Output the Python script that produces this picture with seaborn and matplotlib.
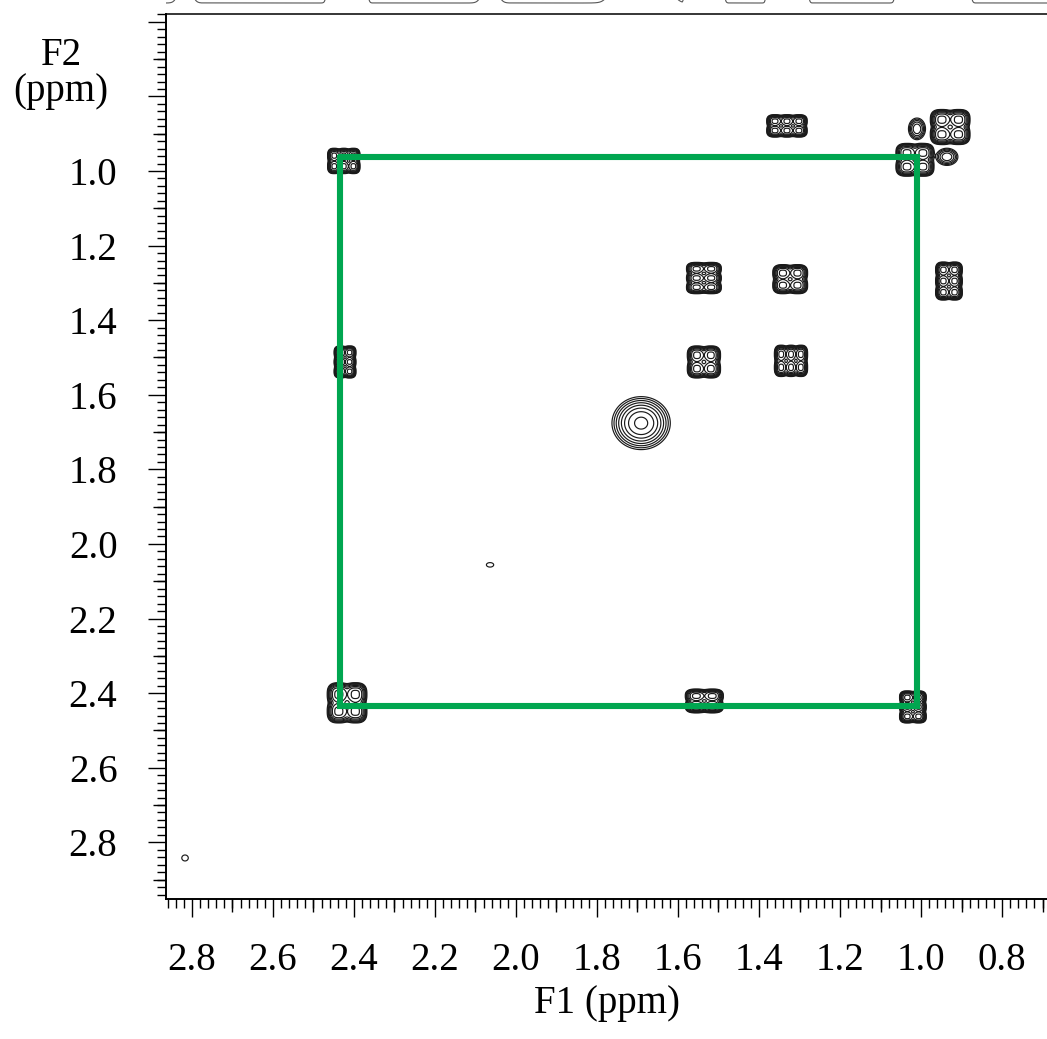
import numpy as np
import matplotlib
matplotlib.use("Agg")
import matplotlib.pyplot as plt
from matplotlib.ticker import FixedLocator, FuncFormatter
import seaborn as sns

# COSY cross/diagonal peaks (ppm)
peak_f1 = [2.425, 2.422, 2.417, 1.331, 0.928, 1.015, 1.010, 0.936, 1.536, 1.323,
           0.931, 1.536, 1.321, 1.691, 1.535, 1.020, 2.064, 2.817]
peak_f2 = [0.973, 1.512, 2.426, 0.879, 0.882, 0.970, 0.887, 0.962, 1.287, 1.290,
           1.295, 1.512, 1.509, 1.676, 2.421, 2.437, 2.056, 2.842]
# half size of the outer contour (ppm)
half_f1 = [0.040, 0.027, 0.049, 0.050, 0.049, 0.047, 0.021, 0.027, 0.043, 0.043,
           0.033, 0.041, 0.041, 0.072, 0.047, 0.033, 0.009, 0.008]
half_f2 = [0.034, 0.043, 0.054, 0.030, 0.047, 0.044, 0.029, 0.023, 0.042, 0.039,
           0.051, 0.043, 0.042, 0.071, 0.032, 0.043, 0.006, 0.008]
# multiplet lines along each axis
lines_f1 = [3, 2, 2, 3, 2, 2, 1, 1, 2, 2, 2, 2, 3, 1, 2, 2, 1, 1]
lines_f2 = [2, 3, 2, 2, 2, 2, 1, 1, 3, 2, 3, 2, 2, 1, 2, 3, 1, 1]
intensity = [1, 1, 1, 1, 1, 1, 0.35, 0.35, 1, 1, 1, 1, 1, 1, 1, 1, 0.05, 0.05]

# green connectivity box
box_f1 = [2.435, 1.010, 1.010, 2.435, 2.435]
box_f2 = [0.962, 0.962, 2.434, 2.434, 0.962]

major_ticks = [0.6, 0.8, 1.0, 1.2, 1.4, 1.6, 1.8, 2.0, 2.2, 2.4, 2.6, 2.8]

# figure geometry
W, H = 1047, 1039
x_left, x_right = 2.864, 0.689
y_top, y_bottom = 0.579, 2.952
lowest = 0.04
levels = np.geomspace(lowest, 0.85, 8)
fs = 28

sns.set_theme(style="ticks")
plt.rcParams['font.family'] = ['Liberation Serif', 'DejaVu Serif']
plt.rcParams['axes.edgecolor'] = 'black'
plt.rcParams['xtick.color'] = 'black'
plt.rcParams['ytick.color'] = 'black'
plt.rcParams['text.color'] = 'black'
plt.rcParams['axes.labelcolor'] = 'black'

# build the 2D spectrum from the peak table
gx = np.arange(0.68, 2.88, 0.0012)
gy = np.arange(0.57, 2.96, 0.0012)
Z = np.zeros((len(gy), len(gx)))


def profile(grid, centre, half, n, amp, p):
    c = np.log(amp / lowest) ** (1.0 / p)
    w = half / (1.1 * (n - 1) + c)
    out = np.zeros_like(grid)
    for i in range(n):
        pos = centre + (i - (n - 1) / 2) * 2.2 * w
        out += np.exp(-(np.abs(grid - pos) / w) ** p)
    return out


for i in range(len(peak_f1)):
    p = 2 if lines_f1[i] == 1 and lines_f2[i] == 1 else 2.8
    fx = profile(gx, peak_f1[i], half_f1[i], lines_f1[i], intensity[i], p)
    fy = profile(gy, peak_f2[i], half_f2[i], lines_f2[i], intensity[i], p)
    Z += intensity[i] * np.outer(fy, fx)

fig = plt.figure(figsize=(W / 100, H / 100), dpi=100)
ax = fig.add_axes([166 / W, 1 - 899 / H, 1 - 166 / W, (899 - 14) / H])

ax.contour(gx, gy, Z, levels=levels, colors='#1a1a1a', linewidths=0.85)
sns.lineplot(x=box_f1, y=box_f2, sort=False, estimator=None, ax=ax,
             color='#00a650', lw=4.4, solid_joinstyle='miter', zorder=5)

ax.set_xlim(x_left, x_right)
ax.set_ylim(y_bottom, y_top)

for s in ['top', 'left', 'bottom']:
    ax.spines[s].set_linewidth(1.1)
ax.spines['right'].set_visible(False)

ax.xaxis.set_major_locator(FixedLocator(major_ticks))
ax.yaxis.set_major_locator(FixedLocator(major_ticks))
ax.xaxis.set_minor_locator(FixedLocator(np.round(np.arange(0.58, 2.95, 0.02), 2)))
ax.yaxis.set_minor_locator(FixedLocator(np.round(np.arange(0.58, 2.95, 0.02), 2)))
ax.yaxis.set_major_formatter(FuncFormatter(lambda v, _: f"{v:.1f}" if v > 0.95 else ""))
ax.xaxis.set_major_formatter(FuncFormatter(lambda v, _: f"{v:.1f}"))
ax.tick_params(which='major', direction='out', length=13, width=1, labelsize=fs)
ax.tick_params(which='minor', direction='out', length=6.5, width=1)
ax.tick_params(axis='y', which='major', pad=22)
ax.tick_params(axis='x', which='major', pad=18)
ax.tick_params(top=False, right=False, which='both')

# medium ticks at the 0.1 ppm marks
mid = np.round(np.arange(0.7, 2.95, 0.2), 1)
secx = ax.secondary_xaxis('bottom')
secx.set_xticks(mid)
secx.tick_params(direction='out', length=9.4, width=1, labelbottom=False)
secy = ax.secondary_yaxis('left')
secy.set_yticks(mid)
secy.tick_params(direction='out', length=9.4, width=1, labelleft=False)

ax.set_xlabel("F1 (ppm)", fontsize=fs, labelpad=4)
ax.set_ylabel("")
fig.text(61 / W, 1 - 65 / H, "F2", fontsize=fs, ha='center', va='baseline')
fig.text(61 / W, 1 - 101 / H, "(ppm)", fontsize=fs, ha='center', va='baseline')

# 1D projection trace, mostly cut off at the top edge
top = fig.add_axes([166 / W, 1 - 12 / H, 1 - 166 / W, 12 / H])
sns.lineplot(x=gx, y=Z.max(axis=0), estimator=None, sort=False, ax=top,
             color='#555555', lw=0.8)
top.set_xlim(x_left, x_right)
top.set_ylim(-0.015, 0.005)
top.axis('off')

fig.savefig("out.png", dpi=100)
